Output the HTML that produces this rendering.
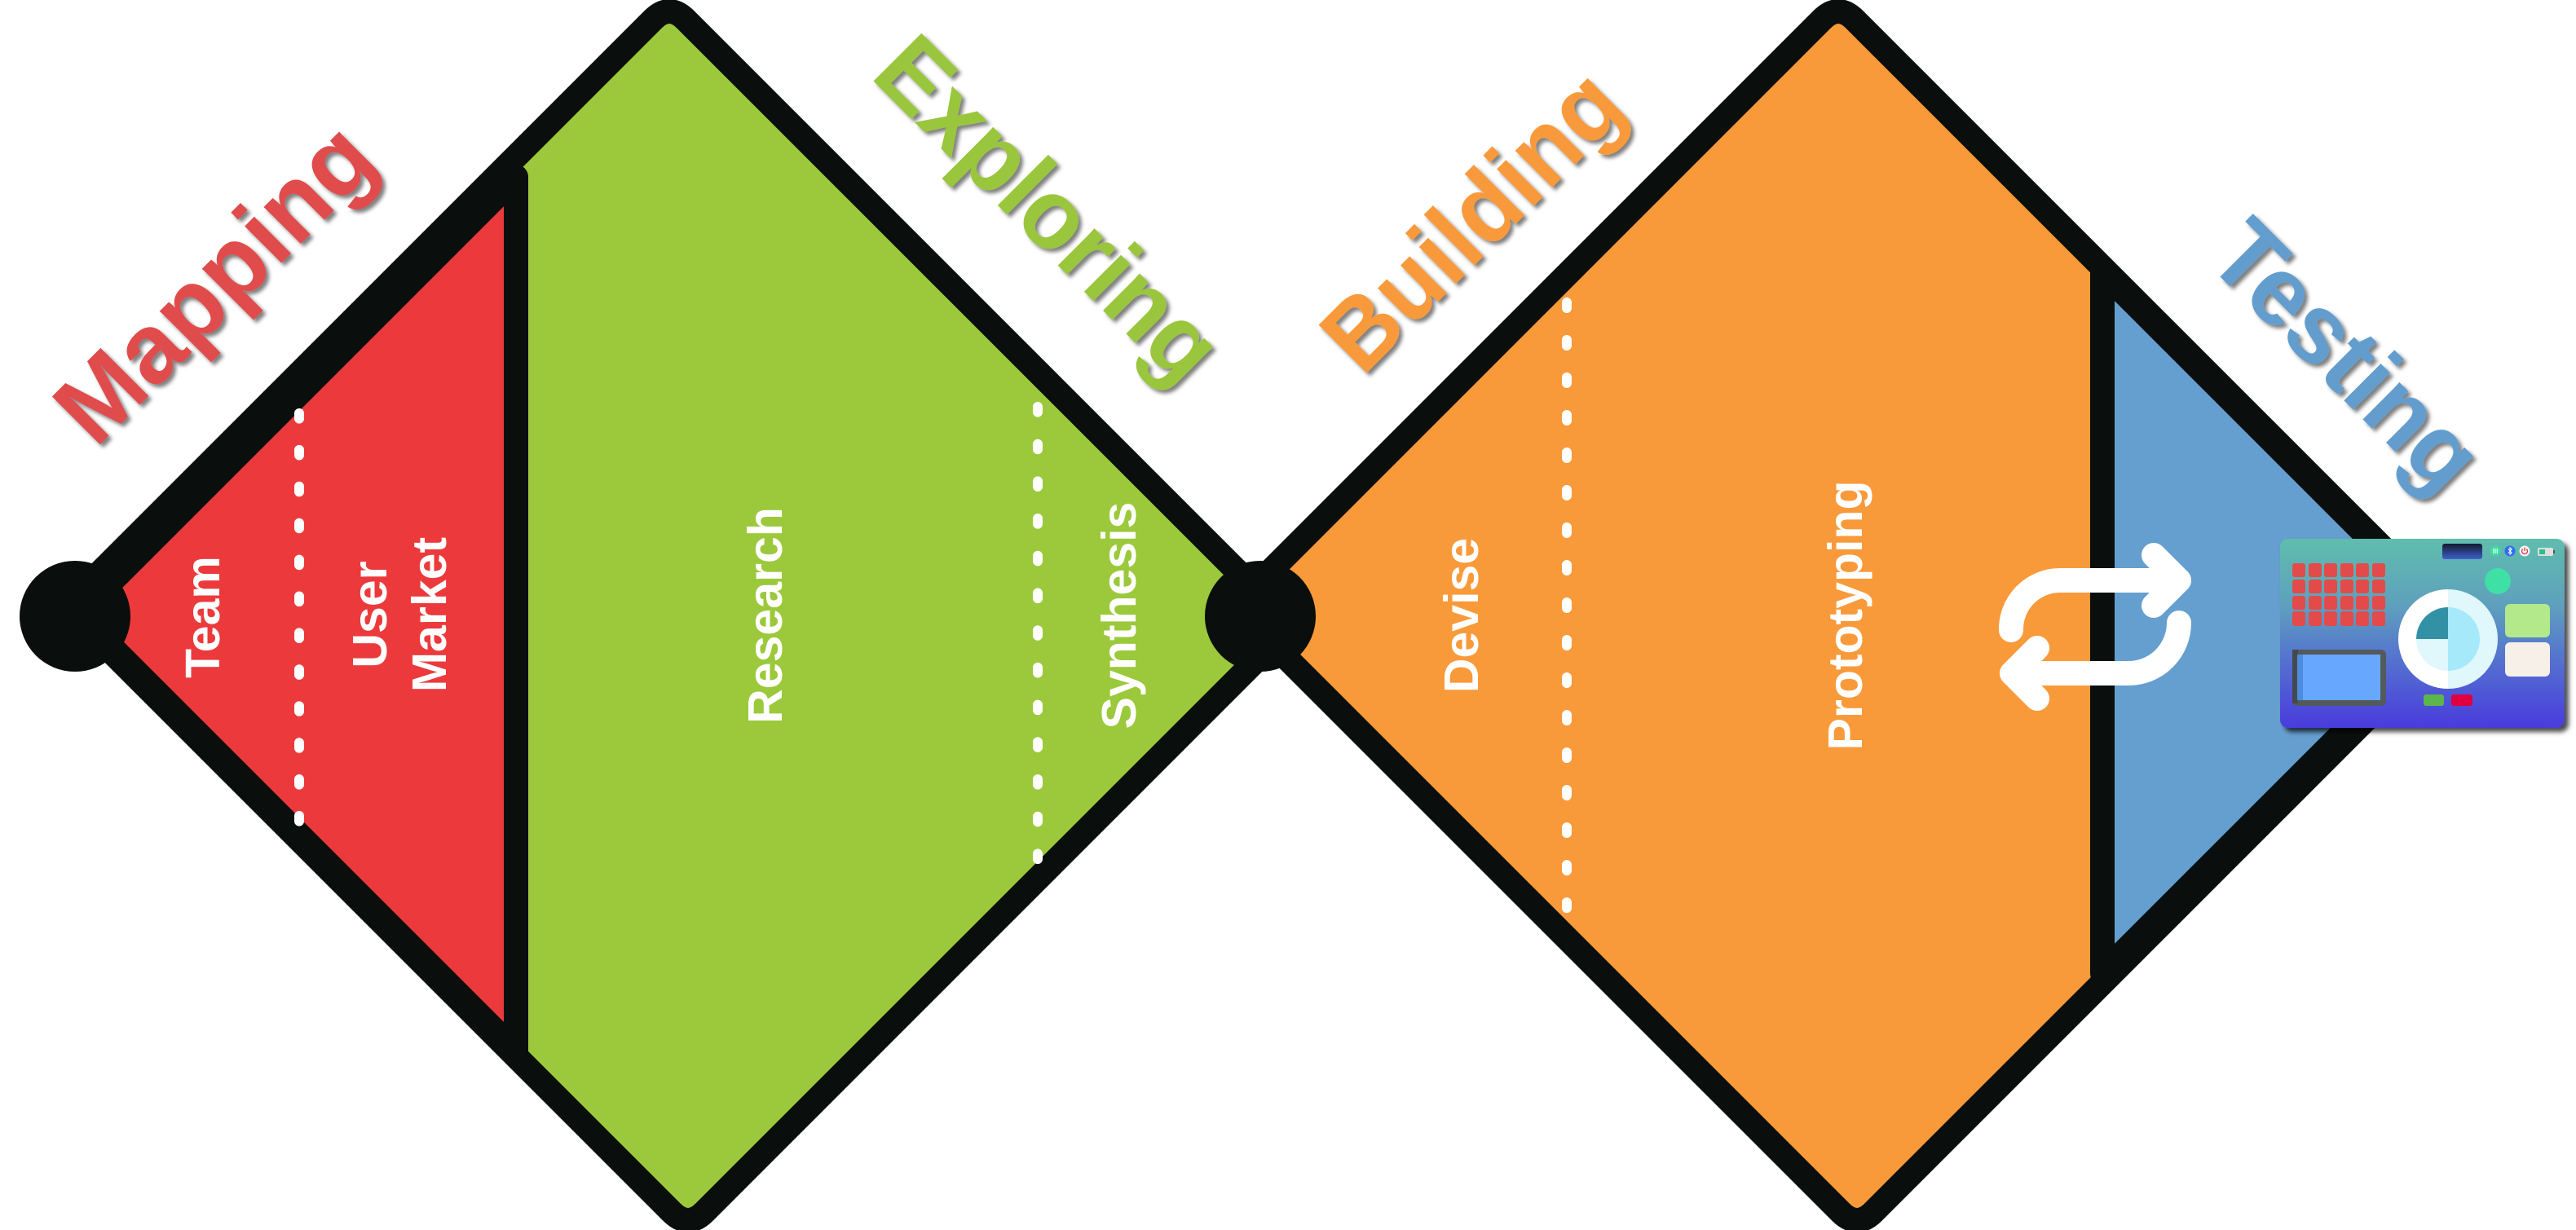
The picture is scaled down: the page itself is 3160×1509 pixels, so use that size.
<!DOCTYPE html>
<html>
<head>
<meta charset="utf-8">
<style>
html,body{margin:0;padding:0;background:#ffffff;}
svg{display:block;}
</style>
</head>
<body>
<svg xmlns="http://www.w3.org/2000/svg" width="3160" height="1509" viewBox="0 0 3160 1509">
<defs>
  <filter id="ts" x="-15%" y="-15%" width="130%" height="130%">
    <feDropShadow dx="4" dy="4" stdDeviation="2.5" flood-color="#000" flood-opacity="0.5"/>
  </filter>
  <filter id="cs" x="-5%" y="-5%" width="115%" height="120%">
    <feDropShadow dx="5" dy="5" stdDeviation="3" flood-color="#000" flood-opacity="0.7"/>
  </filter>
  <linearGradient id="cg" x1="0" y1="0" x2="0" y2="1">
    <stop offset="0" stop-color="#5fbdad"/>
    <stop offset="0.35" stop-color="#5fa0bd"/>
    <stop offset="0.62" stop-color="#5575ce"/>
    <stop offset="1" stop-color="#4a3bdd"/>
  </linearGradient>
  <linearGradient id="pg" x1="0" y1="0" x2="0" y2="1">
    <stop offset="0" stop-color="#15182f"/>
    <stop offset="1" stop-color="#3e60cc"/>
  </linearGradient>
</defs>

<!-- Left diamond (green) -->
<path d="M101,724 L801,24 Q821,4 841,24 L1564,747 Q1584,767 1564,787 L864,1487 Q844,1507 824,1487 L101,764 Q81,744 101,724 Z"
      fill="#9bc93b" stroke="#0a0e0d" stroke-width="30" stroke-linejoin="round"/>
<!-- Red triangle -->
<path d="M96.5,753.5 L633,217 L633,1290 Z" fill="#ec3a3c" stroke="#0a0e0d" stroke-width="30" stroke-linejoin="round"/>

<!-- Right diamond (orange) -->
<path d="M1535,724 L2235,24 Q2255,4 2275,24 L2998,747 Q3018,767 2998,787 L2298,1487 Q2278,1507 2258,1487 L1535,764 Q1515,744 1535,724 Z"
      fill="#f99a3a" stroke="#0a0e0d" stroke-width="30" stroke-linejoin="round"/>
<!-- Blue triangle -->
<path d="M2579,333 L3009.5,763.5 L2579,1194 Z" fill="#659fcf" stroke="#0a0e0d" stroke-width="30" stroke-linejoin="round"/>

<!-- Circles -->
<circle cx="92" cy="756" r="68" fill="#0a0e0d"/>
<circle cx="1546" cy="756" r="68" fill="#0a0e0d"/>

<!-- Dashed lines -->
<line x1="367" y1="507" x2="367" y2="1009" stroke="#fff" stroke-width="12" stroke-linecap="round" stroke-dasharray="6.6 38.3"/>
<line x1="1273" y1="499" x2="1273" y2="1054" stroke="#fff" stroke-width="12" stroke-linecap="round" stroke-dasharray="6.6 39.1"/>
<line x1="1922" y1="371" x2="1922" y2="1114" stroke="#fff" stroke-width="12" stroke-linecap="round" stroke-dasharray="7 39"/>

<!-- Inner white labels -->
<g font-family="'Liberation Sans', Arial, sans-serif" font-weight="bold" font-size="59" fill="#ffffff" text-anchor="middle">
  <text transform="translate(269,757) rotate(-90)">Team</text>
  <text transform="translate(474,754) rotate(-90)">User</text>
  <text transform="translate(547,754) rotate(-90)">Market</text>
  <text transform="translate(959,755) rotate(-90)">Research</text>
  <text transform="translate(1393,755) rotate(-90)">Synthesis</text>
  <text transform="translate(1813,755) rotate(-90)">Devise</text>
  <text transform="translate(2284,755) rotate(-90)">Prototyping</text>
</g>

<!-- Phase labels -->
<g font-family="'Liberation Sans', Arial, sans-serif" font-weight="bold" font-size="121">
  <g filter="url(#ts)">
    <text transform="translate(117,551) rotate(-45)" fill="#e04b4c" textLength="495" lengthAdjust="spacingAndGlyphs">Mapping</text>
  </g>
  <g filter="url(#ts)">
    <text transform="translate(1066,94) rotate(45)" fill="#99c63d" textLength="541" lengthAdjust="spacingAndGlyphs">Exploring</text>
  </g>
  <g filter="url(#ts)">
    <text transform="translate(1671,463) rotate(-45)" fill="#f89a3b" textLength="463" lengthAdjust="spacingAndGlyphs">Building</text>
  </g>
  <g filter="url(#ts)">
    <text transform="translate(2704,320) rotate(45)" fill="#639dcd" textLength="411" lengthAdjust="spacingAndGlyphs">Testing</text>
  </g>
</g>

<!-- Cycle arrows -->
<g fill="none" stroke="#ffffff" stroke-width="30" stroke-linecap="round" stroke-linejoin="round">
  <path d="M2467,773 A60,60 0 0 1 2527,712 L2673,712"/>
  <path d="M2642,681 L2673,712 L2642,743"/>
  <path d="M2673,764 A62,62 0 0 1 2611,826 L2468,826"/>
  <path d="M2499,795 L2468,826 L2499,857"/>
</g>

<!-- Dashboard icon -->
<g>
  <rect x="2797" y="661" width="349" height="232" rx="10" fill="url(#cg)" filter="url(#cs)"/>
  <!-- top bar -->
  <rect x="2996" y="667" width="49" height="19" rx="3" fill="url(#pg)"/>
  <circle cx="3061" cy="676" r="6.5" fill="#3ddca0"/>
  <g stroke="#ffffff" stroke-width="0.8">
    <line x1="3058.5" y1="673" x2="3058.5" y2="679"/>
    <line x1="3060.2" y1="673" x2="3060.2" y2="679"/>
    <line x1="3061.9" y1="673" x2="3061.9" y2="679"/>
    <line x1="3063.6" y1="673" x2="3063.6" y2="679"/>
  </g>
  <circle cx="3079" cy="676" r="6.5" fill="#2d6ef0"/>
  <path d="M3076.8,673.3 L3081.2,678.2 L3079,680.2 L3079,671.8 L3081.2,673.8 L3076.8,678.7" fill="none" stroke="#fff" stroke-width="1"/>
  <circle cx="3097" cy="676" r="6.5" fill="#f4f4f4"/>
  <path d="M3094.6,673.6 A3.5,3.5 0 1 0 3099.4,673.6" fill="none" stroke="#e0343c" stroke-width="1.3"/>
  <line x1="3097" y1="671.8" x2="3097" y2="676" stroke="#e0343c" stroke-width="1.3"/>
  <rect x="3113" y="672" width="19" height="10" rx="2" fill="#dedede"/>
  <rect x="3115" y="674" width="7" height="6" fill="#27c08a"/>
  <rect x="3132" y="675" width="2" height="4" fill="#555"/>

  <!-- red grid -->
  <g fill="#e34b4b">
    <rect x="2812" y="691" width="16" height="17" rx="3"/>
    <rect x="2832" y="691" width="16" height="17" rx="3"/>
    <rect x="2851" y="691" width="16" height="17" rx="3"/>
    <rect x="2871" y="691" width="16" height="17" rx="3"/>
    <rect x="2890" y="691" width="16" height="17" rx="3"/>
    <rect x="2910" y="691" width="16" height="17" rx="3"/>
    <rect x="2812" y="711" width="16" height="17" rx="3"/>
    <rect x="2832" y="711" width="16" height="17" rx="3"/>
    <rect x="2851" y="711" width="16" height="17" rx="3"/>
    <rect x="2871" y="711" width="16" height="17" rx="3"/>
    <rect x="2890" y="711" width="16" height="17" rx="3"/>
    <rect x="2910" y="711" width="16" height="17" rx="3"/>
    <rect x="2812" y="731" width="16" height="17" rx="3"/>
    <rect x="2832" y="731" width="16" height="17" rx="3"/>
    <rect x="2851" y="731" width="16" height="17" rx="3"/>
    <rect x="2871" y="731" width="16" height="17" rx="3"/>
    <rect x="2890" y="731" width="16" height="17" rx="3"/>
    <rect x="2910" y="731" width="16" height="17" rx="3"/>
    <rect x="2812" y="750" width="16" height="18" rx="3"/>
    <rect x="2832" y="750" width="16" height="18" rx="3"/>
    <rect x="2851" y="750" width="16" height="18" rx="3"/>
    <rect x="2871" y="750" width="16" height="18" rx="3"/>
    <rect x="2890" y="750" width="16" height="18" rx="3"/>
    <rect x="2910" y="750" width="16" height="18" rx="3"/>
  </g>

  <!-- screen -->
  <rect x="2812" y="797" width="115" height="69" rx="6" fill="#54595d"/>
  <rect x="2812" y="797" width="7" height="66" fill="#45494c"/>
  <rect x="2818" y="803" width="102" height="56" fill="#67a7fd"/>
  <rect x="2818" y="803" width="7" height="56" fill="#4b8ce0"/>

  <!-- donut -->
  <path d="M3003,723 A61,61 0 0 0 3003,845 Z" fill="#ffffff"/>
  <path d="M3003,723 A61,61 0 0 1 3003,845 Z" fill="#e0f7fc"/>
  <path d="M3003,745 A39,39 0 0 1 3003,823 Z" fill="#a5e9fb"/>
  <path d="M3003,784 L3003,823 A39,39 0 0 1 2964,784 Z" fill="#e0f7fc"/>
  <path d="M3003,784 L2964,784 A39,39 0 0 1 3003,745 Z" fill="#3391a6"/>

  <!-- right widgets -->
  <circle cx="3064" cy="713" r="16" fill="#3fe0a5"/>
  <rect x="3073" y="741" width="55" height="41" rx="6" fill="#b3e98a"/>
  <rect x="3073" y="788" width="55" height="42" rx="6" fill="#f7f0e8"/>

  <!-- buttons -->
  <rect x="2973" y="852" width="25" height="14" rx="3" fill="#5cb64c"/>
  <rect x="3007" y="852" width="26" height="14" rx="3" fill="#e0003f"/>
</g>
</svg>
</body>
</html>
